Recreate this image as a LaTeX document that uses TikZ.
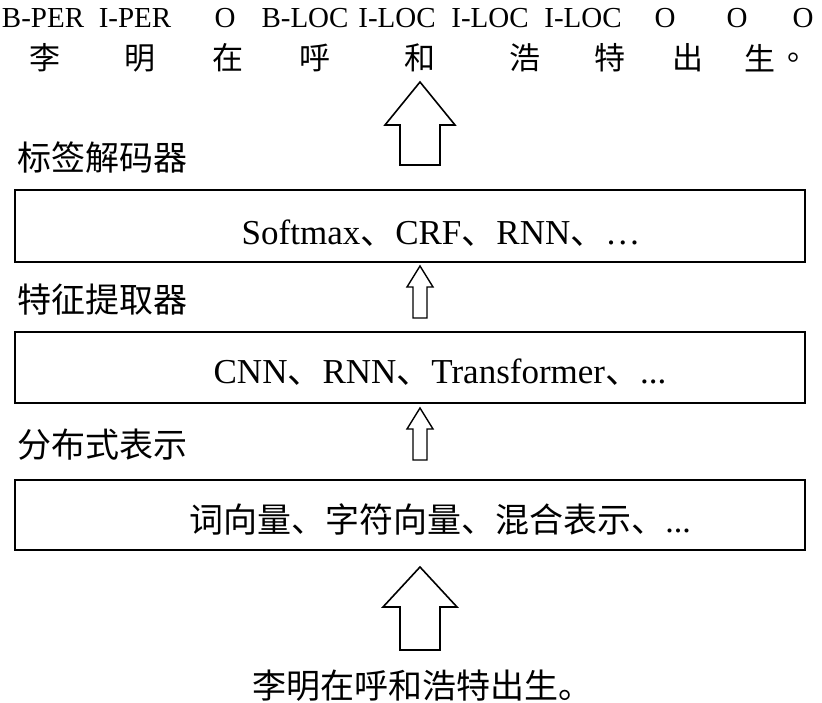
\documentclass[tikz,border=0pt]{standalone}
\usepackage{fontspec}
\setmainfont{Liberation Serif}
\newfontfamily\cjk{Noto Sans CJK SC}
\begin{document}
\begin{tikzpicture}[x=1pt,y=-1pt,
  tag/.style={font=\fontsize{29}{29}\selectfont,inner sep=0},
  lbl/.style={font=\fontsize{35}{35}\selectfont,inner sep=0},
  zh/.style={font=\cjk\fontsize{34}{34}\selectfont,inner sep=0},
  boxs/.style={draw,line width=1.2pt},
  harrow/.style={draw,line width=1.6pt,fill=white}]
\useasboundingbox (0,0) rectangle (822,703);
% top tags
\foreach \x/\t [count=\i] in {43/B-PER,135/I-PER,225/O,305/B-LOC,397/I-LOC,490/I-LOC,583/I-LOC,665/O,737/O,803/O}
  \node[tag] (t\i) at (\x,18) {\t};
\foreach \x/\t [count=\i] in {45/李,140/明,228/在,315/呼,420/和,525/浩,610/特,688/出,760/生,803/。}
  \node[zh,font=\cjk\fontsize{31}{31}\selectfont] (c\i) at (\x,58) {\t};
% big arrow top
\draw[harrow] (400,165) -- (400,125) -- (385,125) -- (420,82) -- (455,125) -- (440,125) -- (440,165) -- cycle;
\node[zh,anchor=west] (l1) at (17,158) {标签解码器};
\draw[boxs] (15,190) rectangle (805,262);
\node[lbl] (b1) at (441,233) {Softmax{\cjk 、}CRF{\cjk 、}RNN{\cjk 、}…};
\draw[harrow,line width=1.4pt] (413,318) -- (413,287) -- (407,287) -- (420,266) -- (433,287) -- (427,287) -- (427,318) -- cycle;
\node[zh,anchor=west] (l2) at (17,300) {特征提取器};
\draw[boxs] (15,332) rectangle (805,403);
\node[lbl] (b2) at (440,372) {CNN{\cjk 、}RNN{\cjk 、}Transformer{\cjk 、}...};
\draw[harrow,line width=1.4pt] (413,460) -- (413,429) -- (407,429) -- (420,408) -- (433,429) -- (427,429) -- (427,460) -- cycle;
\node[zh,anchor=west] (l3) at (17,445) {分布式表示};
\draw[boxs] (15,480) rectangle (805,550);
\node[zh] (b3) at (440,520) {词向量、字符向量、混合表示、\fontspec{Liberation Serif}...};
% big arrow bottom
\draw[harrow] (400,650) -- (400,607) -- (383,607) -- (420,567) -- (457,607) -- (440,607) -- (440,650) -- cycle;
\node[zh] (s) at (422,686) {李明在呼和浩特出生。};
\end{tikzpicture}
\end{document}
